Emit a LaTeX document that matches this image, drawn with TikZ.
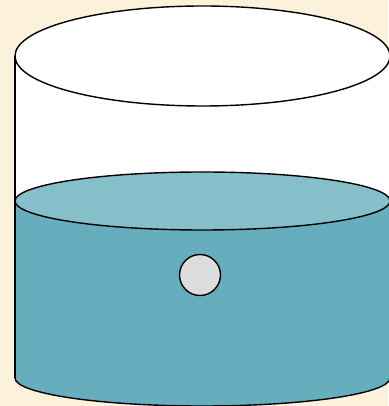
\documentclass[tikz,border=0pt]{standalone}
\usepackage{tikz}
\definecolor{paper}{RGB}{252,242,219}
\definecolor{waterside}{RGB}{102,174,189}
\definecolor{watertop}{RGB}{133,191,202}
\definecolor{ballgray}{RGB}{221,221,221}

\begin{document}
\begin{tikzpicture}[x=1pt,y=1pt,line width=1.4pt,
  water/.style={fill=waterside},
  surface/.style={fill=watertop,draw=black},
  ball/.style={circle,draw=black,fill=ballgray,minimum size=41pt,inner sep=0pt}]
\useasboundingbox (0,0) rectangle (388,406);
% background
\fill[paper] (0,0) rectangle (388,406);
% empty part of the jar
\fill[white] (15,350) -- (15,205) -- (390,205) -- (390,350) -- cycle;
% water body
\fill[water] (15,205) -- (15,28) arc[start angle=180,end angle=360,x radius=187.5,y radius=28]
  -- (390,205) -- cycle;
\draw (15,28) arc[start angle=180,end angle=360,x radius=187.5,y radius=28];
% water surface
\filldraw[surface] (202.5,205) ellipse (187.5 and 29);
% rim
\filldraw[fill=white] (202.5,350) ellipse (187.5 and 50);
% sides
\draw (15,350) -- (15,28);
\draw (390,350) -- (390,28);
% the ball
\node[ball] (ball) at (200,131) {};
\end{tikzpicture}
\end{document}
